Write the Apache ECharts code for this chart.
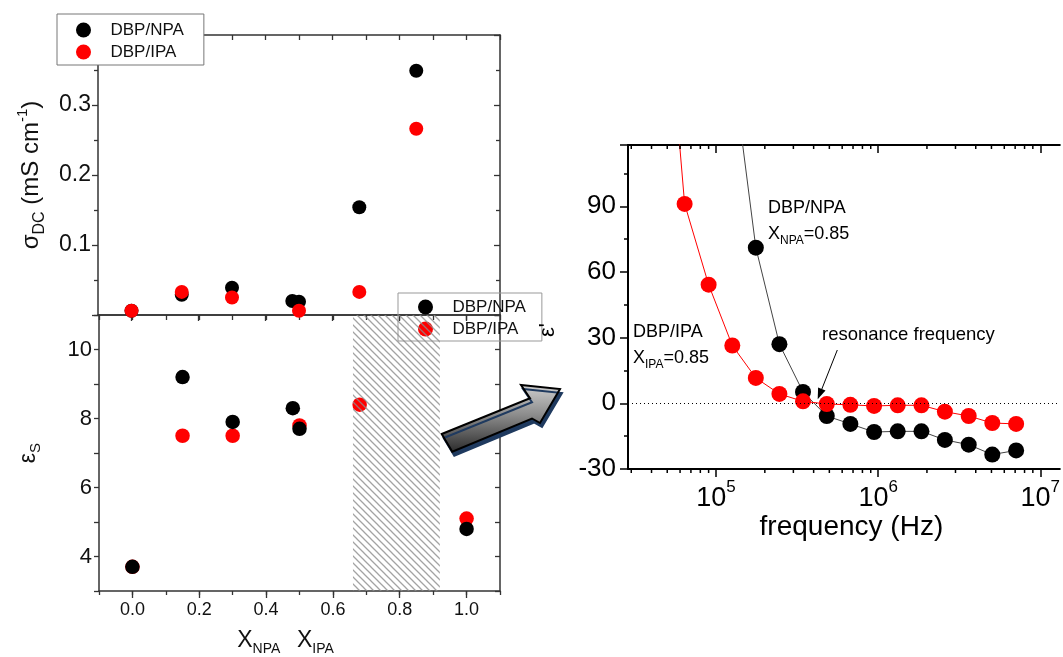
<!DOCTYPE html>
<html><head><meta charset="utf-8">
<script src="https://cdn.jsdelivr.net/npm/echarts@6/dist/echarts.min.js"></script>
<style>html,body{margin:0;padding:0;background:#fff}#c{width:1063px;height:657px}</style>
</head><body><div id="c"></div>
<script>
const FONT = '"Liberation Sans", Arial, Helvetica, sans-serif';

// ---- Top-left: DC conductivity vs composition ----
const sigmaNPA_x = [0, 0.15, 0.30, 0.48, 0.50, 0.68, 0.85];
const sigmaNPA_y = [0.006, 0.029, 0.039, 0.020, 0.019, 0.154, 0.349];
const sigmaIPA_x = [0, 0.15, 0.30, 0.50, 0.68, 0.85];
const sigmaIPA_y = [0.006, 0.033, 0.025, 0.006, 0.033, 0.266];

// ---- Bottom-left: static permittivity vs composition ----
const epsNPA_x = [0, 0.15, 0.30, 0.48, 0.50, 1.0];
const epsNPA_y = [3.7, 9.2, 7.9, 8.3, 7.7, 4.8];
const epsIPA_x = [0, 0.15, 0.30, 0.50, 0.68, 1.0];
const epsIPA_y = [3.7, 7.5, 7.5, 7.8, 8.4, 5.1];
const hatchRange = [0.66, 0.92];

// ---- Right: eps' vs frequency at X = 0.85 ----
const freqIPA = [4.57e4, 6.4e4, 9.0e4, 1.26e5, 1.76e5, 2.46e5, 3.44e5, 4.82e5, 6.74e5, 9.44e5, 1.32e6, 1.85e6, 2.58e6, 3.62e6, 5.06e6, 7.1e6];
const epsRealIPA = [220, 91.1, 54.2, 26.4, 11.6, 4.3, 0.9, -0.3, -0.7, -1.2, -0.9, -0.9, -3.8, -5.8, -9.0, -9.4];
const freqNPA = [1.26e5, 1.76e5, 2.46e5, 3.44e5, 4.82e5, 6.74e5, 9.44e5, 1.32e6, 1.85e6, 2.58e6, 3.62e6, 5.06e6, 7.1e6];
const epsRealNPA = [155, 71.1, 27.0, 5.2, -5.8, -9.4, -13.1, -12.8, -12.8, -16.7, -18.9, -23.4, -21.5];

// ---- tick labels ----
const compTickLabels = [0, 0.2, 0.4, 0.6, 0.8, 1.0];
const freqTickLabels = [1e5, 1e6, 1e7];
const freqMinorTicks = [3e4,4e4,5e4,6e4,7e4,8e4,9e4,2e5,3e5,4e5,5e5,6e5,7e5,8e5,9e5,2e6,3e6,4e6,5e6,6e6,7e6,8e6,9e6];

const zip = (a, b) => a.map((v, i) => [v, b[i]]);

// hatch pattern
const pat = document.createElement('canvas');
pat.width = 7; pat.height = 7;
(function(){
  const g = pat.getContext('2d');
  g.strokeStyle = 'rgba(140,140,140,0.8)';
  g.lineWidth = 1.3;
  g.beginPath();
  g.moveTo(-1,-1); g.lineTo(8,8);
  g.moveTo(6,-1); g.lineTo(8,1);
  g.moveTo(-1,6); g.lineTo(1,8);
  g.stroke();
})();

const LC = '#333';
const chart = echarts.init(document.getElementById('c'), null, {renderer: 'canvas'});

const leftLabel = {fontFamily: FONT, color: '#111'};
const lineL = {show: true, onZero: false, lineStyle: {color: LC, width: 1.5}};
const lineR = {show: true, onZero: false, lineStyle: {color: '#000', width: 2}};

const option = {
  animation: false,
  backgroundColor: '#fff',
  textStyle: {fontFamily: FONT},
  grid: [
    {left: 98, top: 35, width: 402, height: 280},
    {left: 99, top: 315, width: 401, height: 279},
    {left: 628, top: 145, width: 435, height: 324}
  ],
  xAxis: [
    {type: 'value', gridIndex: 0, min: -0.1, max: 1.1, position: 'bottom',
     axisLine: lineL,
     axisTick: {customValues: compTickLabels, length: 6, lineStyle: {color: LC, width: 1.3}},
     axisLabel: {show: false}, splitLine: {show: false}},
    {type: 'value', gridIndex: 0, min: -0.1, max: 1.1, interval: 0.1, position: 'top',
     axisLine: lineL,
     axisTick: {inside: true, length: 5, lineStyle: {color: LC, width: 1.3}},
     axisLabel: {show: false}, splitLine: {show: false}},
    {type: 'value', gridIndex: 1, min: -0.1, max: 1.1, position: 'bottom',
     axisLine: lineL,
     axisTick: {customValues: compTickLabels, length: 7, lineStyle: {color: LC, width: 1.3}},
     axisLabel: {customValues: compTickLabels, formatter: v => v.toFixed(1), fontSize: 18, margin: 10, ...leftLabel},
     splitLine: {show: false},
     name: '{x|X}{s|NPA}     {x|X}{s|IPA}', nameLocation: 'middle', nameGap: 35,
     nameTextStyle: {padding: [0, 28, 0, 0], rich: {
       x: {fontSize: 23, fontFamily: FONT, color: '#111'},
       s: {fontSize: 14, fontFamily: FONT, color: '#111', padding: [16, 0, 0, 0]}
     }}},
    {type: 'value', gridIndex: 1, min: -0.1, max: 1.1, interval: 0.1, position: 'bottom',
     axisLine: {show: false, onZero: false},
     axisTick: {length: 4, lineStyle: {color: LC, width: 1.3}},
     axisLabel: {show: false}, splitLine: {show: false}},
    {type: 'value', gridIndex: 1, min: -0.1, max: 1.1, interval: 0.1, position: 'top',
     axisLine: lineL,
     axisTick: {inside: true, length: 5, lineStyle: {color: LC, width: 1.3}},
     axisLabel: {show: false}, splitLine: {show: false}},
    {type: 'log', logBase: 10, gridIndex: 2, min: 28640, max: 1.32e7, position: 'bottom',
     axisLine: lineR,
     axisTick: {customValues: freqTickLabels, length: 8, lineStyle: {color: '#000', width: 1.5}},
     axisLabel: {customValues: freqTickLabels, margin: 10, color: '#000', fontFamily: FONT,
       formatter: v => { const e = Math.log10(v); return Math.abs(e - Math.round(e)) < 1e-6 ? '{b|10}{p|' + Math.round(e) + '}' : ''; },
       rich: {b: {fontSize: 27, fontFamily: FONT, color: '#000'},
              p: {fontSize: 17, fontFamily: FONT, color: '#000', padding: [0, 0, 22, 0]}}},
     splitLine: {show: false},
     name: 'frequency (Hz)', nameLocation: 'middle', nameGap: 44,
     nameTextStyle: {fontSize: 28, fontFamily: FONT, color: '#000', padding: [0, 0, 0, 15]}},
    {type: 'log', logBase: 10, gridIndex: 2, min: 28640, max: 1.32e7, position: 'top',
     axisLine: lineR,
     axisTick: {customValues: freqTickLabels, inside: true, length: 8, lineStyle: {color: '#000', width: 1.5}},
     axisLabel: {show: false}, splitLine: {show: false}}
  ],
  yAxis: [
    {type: 'value', gridIndex: 0, min: 0, max: 0.4, interval: 0.1, position: 'left',
     axisLine: lineL,
     axisTick: {show: true, length: 6, lineStyle: {color: LC, width: 1.3}},
     minorTick: {show: true, splitNumber: 2, length: 4, lineStyle: {color: LC, width: 1.3}},
     axisLabel: {fontSize: 23, margin: 7, showMinLabel: false, showMaxLabel: false, formatter: v => v.toFixed(1), ...leftLabel},
     splitLine: {show: false},
     name: '{m|σ}{s|DC}{m| (mS cm}{p|-1}{m|)}', nameLocation: 'middle', nameGap: 50,
     nameTextStyle: {rich: {
       m: {fontSize: 24, fontFamily: FONT, color: '#111'},
       s: {fontSize: 16, fontFamily: FONT, color: '#111', padding: [16, 0, 0, 0]},
       p: {fontSize: 15, fontFamily: FONT, color: '#111', padding: [0, 0, 18, 0]}
     }}},
    {type: 'value', gridIndex: 0, min: 0, max: 0.4, interval: 0.1, position: 'right',
     axisLine: lineL,
     axisTick: {show: true, inside: true, length: 6, lineStyle: {color: LC, width: 1.3}},
     minorTick: {show: true, splitNumber: 2, length: 4, lineStyle: {color: LC, width: 1.3}},
     axisLabel: {show: false}, splitLine: {show: false}},
    {type: 'value', gridIndex: 1, min: 3, max: 11, interval: 1, position: 'left',
     axisLine: lineL,
     axisTick: {show: true, length: 5, lineStyle: {color: LC, width: 1.3}},
     axisLabel: {fontSize: 22, margin: 7, formatter: v => (v % 2 === 0 ? String(v) : ''), ...leftLabel},
     splitLine: {show: false},
     name: '{m|ε}{s|S}', nameLocation: 'middle', nameGap: 56,
     nameTextStyle: {rich: {
       m: {fontSize: 23, fontFamily: FONT, color: '#111'},
       s: {fontSize: 15, fontFamily: FONT, color: '#111', padding: [14, 0, 0, 0]}
     }}},
    {type: 'value', gridIndex: 1, min: 3, max: 11, interval: 1, position: 'right',
     axisLine: lineL,
     axisTick: {show: true, inside: true, length: 5, lineStyle: {color: LC, width: 1.3}},
     axisLabel: {show: false}, splitLine: {show: false}},
    {type: 'value', gridIndex: 2, min: -30, max: 118, interval: 30, position: 'left',
     axisLine: lineR,
     axisTick: {show: true, length: 8, lineStyle: {color: '#000', width: 1.5}},
     minorTick: {show: true, splitNumber: 2, length: 4, lineStyle: {color: '#000', width: 1.5}},
     axisLabel: {fontSize: 26, margin: 12, color: '#000', fontFamily: FONT, showMaxLabel: false},
     splitLine: {show: false}}
  ],
  legend: [
    {data: ['DBP/NPA', 'DBP/IPA'], orient: 'vertical', left: 57, top: 14,
     itemWidth: 44, itemHeight: 15, itemGap: 4, padding: [7, 20, 4, 19],
     backgroundColor: '#fff', borderColor: '#777', borderWidth: 1, selectedMode: false,
     textStyle: {fontSize: 17, lineHeight: 18, color: '#111', fontFamily: FONT}},
    {data: ['DBP/NPA', 'DBP/IPA'], orient: 'vertical', left: 398, top: 293,
     itemWidth: 44, itemHeight: 15, itemGap: 4, padding: [5, 16, 3, 20],
     backgroundColor: 'rgba(255,255,255,0)', borderColor: '#999', borderWidth: 1, selectedMode: false,
     textStyle: {fontSize: 17, lineHeight: 18, color: '#111', fontFamily: FONT}}
  ],
  series: [
    {name: 'DBP/NPA', type: 'scatter', xAxisIndex: 0, yAxisIndex: 0, data: zip(sigmaNPA_x, sigmaNPA_y),
     symbol: 'circle', symbolSize: 14, itemStyle: {color: '#000', opacity: 1}, z: 2},
    {name: 'DBP/IPA', type: 'scatter', xAxisIndex: 0, yAxisIndex: 0, data: zip(sigmaIPA_x, sigmaIPA_y),
     symbol: 'circle', symbolSize: 14, itemStyle: {color: '#ff0000', opacity: 1}, z: 3},
    {name: 'DBP/IPA', type: 'scatter', xAxisIndex: 2, yAxisIndex: 2, data: zip(epsIPA_x, epsIPA_y),
     symbol: 'circle', symbolSize: 14.5, itemStyle: {color: '#ff0000', opacity: 1}, z: 2},
    {name: 'DBP/NPA', type: 'scatter', xAxisIndex: 2, yAxisIndex: 2, data: zip(epsNPA_x, epsNPA_y),
     symbol: 'circle', symbolSize: 14.5, itemStyle: {color: '#000', opacity: 1}, z: 3},
    {name: 'hatch', type: 'custom', xAxisIndex: 2, yAxisIndex: 2, z: 6, silent: true,
     data: [[hatchRange[0], 3, hatchRange[1], 11]], encode: {x: [0, 2], y: [1, 3]},
     renderItem: (params, api) => {
       const p1 = api.coord([api.value(0), api.value(3)]);
       const p2 = api.coord([api.value(2), api.value(1)]);
       return {type: 'rect', shape: {x: p1[0], y: p1[1], width: p2[0] - p1[0], height: p2[1] - p1[1]},
               style: {fill: {image: pat, repeat: 'repeat'}}};
     }},
    {name: 'DBP/NPA X=0.85', type: 'line', xAxisIndex: 5, yAxisIndex: 4, data: zip(freqNPA, epsRealNPA),
     symbol: 'circle', symbolSize: 16, showAllSymbol: true, clip: true,
     itemStyle: {color: '#000', opacity: 1}, lineStyle: {color: '#444', width: 1}, z: 2},
    {name: 'DBP/IPA X=0.85', type: 'line', xAxisIndex: 5, yAxisIndex: 4, data: zip(freqIPA, epsRealIPA),
     symbol: 'circle', symbolSize: 16, showAllSymbol: true, clip: true,
     itemStyle: {color: '#ff0000', opacity: 1}, lineStyle: {color: '#ff0000', width: 1}, z: 3,
     markLine: {silent: true, symbol: 'none', label: {show: false},
       lineStyle: {type: [1, 3], color: '#000', width: 1}, data: [{yAxis: 0}]}},
    {name: 'minor', type: 'custom', xAxisIndex: 5, yAxisIndex: 4, silent: true, z: 4,
     data: freqMinorTicks.map(v => [v, -30]),
     renderItem: (params, api) => {
       const v = api.value(0);
       const pb = api.coord([v, -30]);
       const pt = api.coord([v, 118]);
       return {type: 'group', children: [
         {type: 'line', shape: {x1: pb[0], y1: pb[1], x2: pb[0], y2: pb[1] + 4}, style: {stroke: '#000', lineWidth: 1.5}},
         {type: 'line', shape: {x1: pt[0], y1: pt[1], x2: pt[0], y2: pt[1] + 4}, style: {stroke: '#000', lineWidth: 1.5}}
       ]};
     }}
  ],
  graphic: [
    {type: 'text', x: 548, y: 330, rotation: Math.PI / 2, z: 10,
     style: {text: "ε'", font: '22px ' + FONT, fill: '#000', textAlign: 'center', textVerticalAlign: 'middle', align: 'center', verticalAlign: 'middle'}},
    {type: 'text', x: 768, y: 208, z: 10,
     style: {text: 'DBP/NPA', font: '18px ' + FONT, fill: '#000', textVerticalAlign: 'middle', verticalAlign: 'middle'}},
    {type: 'text', x: 768, y: 234, z: 10,
     style: {text: '{m|X}{s|NPA}{m|=0.85}', textVerticalAlign: 'middle', verticalAlign: 'middle',
       rich: {m: {fontSize: 18, fontFamily: FONT, fill: '#000', color: '#000'},
              s: {fontSize: 12, fontFamily: FONT, fill: '#000', color: '#000', padding: [14, 0, 0, 0]}}}},
    {type: 'text', x: 633, y: 332, z: 10,
     style: {text: 'DBP/IPA', font: '18px ' + FONT, fill: '#000', textVerticalAlign: 'middle', verticalAlign: 'middle'}},
    {type: 'text', x: 633, y: 358, z: 10,
     style: {text: '{m|X}{s|IPA}{m|=0.85}', textVerticalAlign: 'middle', verticalAlign: 'middle',
       rich: {m: {fontSize: 18, fontFamily: FONT, fill: '#000', color: '#000'},
              s: {fontSize: 12, fontFamily: FONT, fill: '#000', color: '#000', padding: [14, 0, 0, 0]}}}},
    {type: 'text', x: 822, y: 335, z: 10,
     style: {text: 'resonance frequency', font: '18.5px ' + FONT, fill: '#000', textVerticalAlign: 'middle', verticalAlign: 'middle'}},
    {type: 'line', z: 10, shape: {x1: 837.3, y1: 350, x2: 821.8, y2: 389.1}, style: {stroke: '#000', lineWidth: 1}},
    {type: 'polygon', z: 10, shape: {points: [[817.7, 399.3], [825.5, 390.6], [818.1, 387.6]]}, style: {fill: '#000'}},
    {type: 'polygon', z: 10,
     shape: {points: [[441.7, 434], [530, 398.3], [521, 385], [560, 389], [540, 423], [532, 418.5], [452.3, 451.7]]},
     style: {
       fill: {type: 'linear', x: 0, y: 0, x2: 0, y2: 1, colorStops: [
         {offset: 0, color: '#d0d0d0'}, {offset: 0.45, color: '#8c8c8c'}, {offset: 1, color: '#2a2a2a'}]},
       stroke: '#000', lineWidth: 2,
       shadowColor: '#1f3a5f', shadowOffsetX: 2, shadowOffsetY: 4, shadowBlur: 0}}
  ]
};
chart.setOption(option);
</script>
</body></html>
